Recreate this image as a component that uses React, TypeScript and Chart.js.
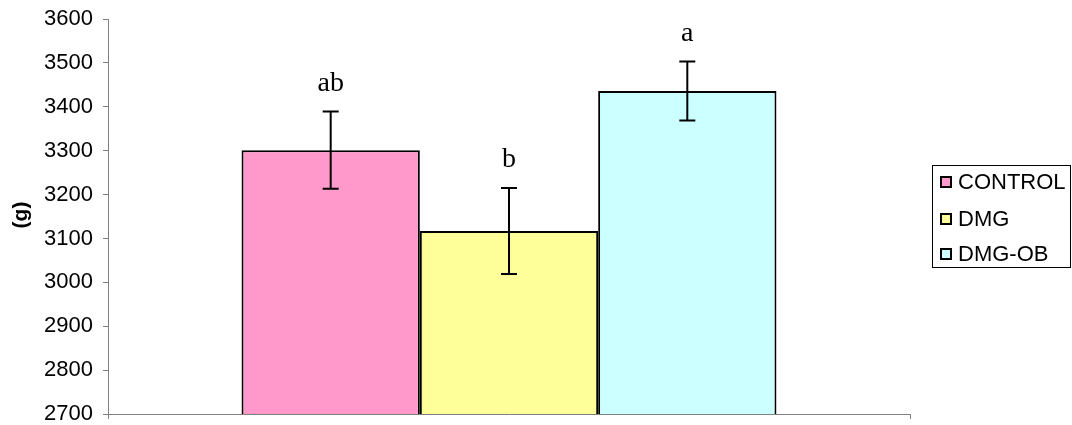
import React, { useEffect, useRef } from "react";
import { Chart, registerables } from "chart.js";

Chart.register(...registerables);

const groups = ["CONTROL", "DMG", "DMG-OB"];
const means = [3301, 3117, 3436];
const errors = [88, 98, 67];
const letters = ["ab", "b", "a"];
const fills = ["#FF99CC", "#FFFF99", "#CCFFFF"];
const yTicks = [2700, 2800, 2900, 3000, 3100, 3200, 3300, 3400, 3500, 3600];

const AXIS_GREY = "#808080";
const SANS = '"Liberation Sans", Arial, sans-serif';

// Error bars and significance letters on top of each bar
const errorBarPlugin = {
  id: "errorBars",
  afterDatasetsDraw(chart: any) {
    const { ctx } = chart;
    const y = chart.scales.y;
    ctx.save();
    chart.data.datasets.forEach((_ds: any, i: number) => {
      const bar = chart.getDatasetMeta(i).data[0];
      if (!bar) return;
      const x = bar.x;
      const top = y.getPixelForValue(means[i] + errors[i]);
      const bottom = y.getPixelForValue(means[i] - errors[i]);
      ctx.strokeStyle = "#000";
      ctx.lineWidth = 2;
      ctx.beginPath();
      ctx.moveTo(x, top);
      ctx.lineTo(x, bottom);
      ctx.moveTo(x - 8, top);
      ctx.lineTo(x + 8, top);
      ctx.moveTo(x - 8, bottom);
      ctx.lineTo(x + 8, bottom);
      ctx.stroke();

      ctx.fillStyle = "#000";
      ctx.font = '28px "Liberation Serif", "Times New Roman", serif';
      ctx.textAlign = "center";
      ctx.textBaseline = "alphabetic";
      ctx.fillText(letters[i], x, top - 21);
    });
    ctx.restore();
  },
};

// Boxed legend on the right and the rotated axis title
const legendPlugin = {
  id: "boxLegend",
  afterDraw(chart: any) {
    const { ctx } = chart;
    ctx.save();
    ctx.strokeStyle = "#000";
    ctx.lineWidth = 1;
    ctx.strokeRect(932.5, 165.5, 138, 102);

    const rows = [182, 219, 254];
    ctx.font = `22px ${SANS}`;
    ctx.textAlign = "left";
    ctx.textBaseline = "middle";
    groups.forEach((g, i) => {
      ctx.fillStyle = fills[i];
      ctx.fillRect(941, rows[i] - 5, 10, 10);
      ctx.lineWidth = 2;
      ctx.strokeStyle = "#000";
      ctx.strokeRect(941, rows[i] - 5, 10, 10);
      ctx.fillStyle = "#000";
      ctx.fillText(g, 958, rows[i] + 1);
    });

    ctx.translate(21, 215);
    ctx.rotate(-Math.PI / 2);
    ctx.font = `bold 21px ${SANS}`;
    ctx.textAlign = "center";
    ctx.textBaseline = "middle";
    ctx.fillText("(g)", 0, 0);
    ctx.restore();
  },
};

export default function App() {
  const canvasRef = useRef<HTMLCanvasElement | null>(null);

  useEffect(() => {
    if (!canvasRef.current) return;
    const chart = new Chart(canvasRef.current, {
      type: "bar",
      data: {
        labels: [""],
        datasets: groups.map((g, i) => ({
          label: g,
          data: [means[i]],
          backgroundColor: fills[i],
          borderColor: "#000",
          borderWidth: 2,
          borderSkipped: false,
          categoryPercentage: 0.667,
          barPercentage: 1,
        })),
      },
      options: {
        animation: false,
        responsive: true,
        maintainAspectRatio: false,
        layout: { padding: { top: 19, right: 162, bottom: 0, left: 0 } },
        plugins: {
          legend: { display: false },
          tooltip: { enabled: false },
          title: { display: false },
        },
        scales: {
          x: {
            offset: true,
            grid: {
              offset: true,
              drawOnChartArea: false,
              drawTicks: true,
              tickLength: 5,
              color: AXIS_GREY,
              lineWidth: 1,
            },
            border: { display: true, color: AXIS_GREY, width: 1 },
            ticks: { display: false },
            afterFit: (scale: any) => {
              scale.height = 11;
              scale.paddingLeft = 0;
              scale.paddingRight = 0;
            },
          },
          y: {
            min: yTicks[0],
            max: yTicks[yTicks.length - 1],
            afterBuildTicks: (scale: any) => {
              scale.ticks = yTicks.map((v) => ({ value: v }));
            },
            grid: {
              drawOnChartArea: false,
              drawTicks: true,
              tickLength: 5,
              color: AXIS_GREY,
              lineWidth: 1,
            },
            border: { display: true, color: AXIS_GREY, width: 1 },
            ticks: {
              color: "#000",
              padding: 10,
              font: { family: SANS, size: 22 },
              callback: (v: any) => String(v),
            },
            afterFit: (scale: any) => {
              scale.width = 108;
              scale.paddingTop = 0;
              scale.paddingBottom = 0;
            },
          },
        },
      },
      plugins: [errorBarPlugin, legendPlugin],
    });
    return () => chart.destroy();
  }, []);

  return (
    <div style={{ position: "absolute", left: 0, top: 0, width: 1072, height: 425, background: "#fff" }}>
      <canvas ref={canvasRef} />
    </div>
  );
}
